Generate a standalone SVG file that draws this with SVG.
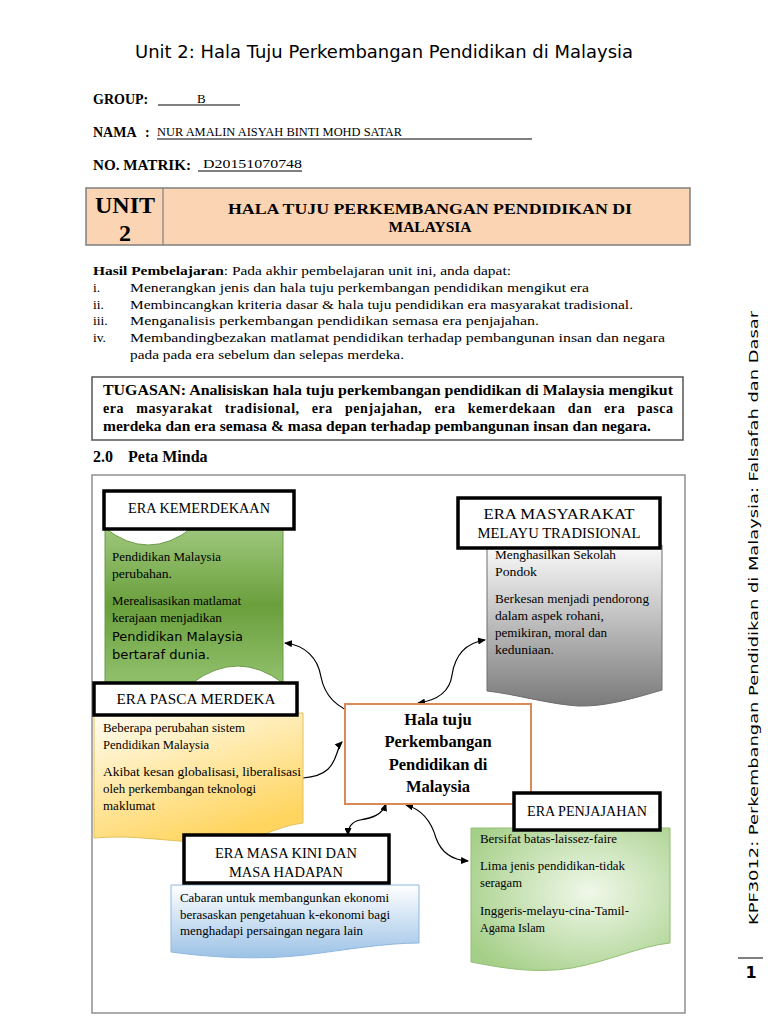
<svg xmlns="http://www.w3.org/2000/svg" width="768" height="1024" viewBox="0 0 768 1024">
<style>
.serif{font-family:"Liberation Serif","Times New Roman",serif;fill:#000}
.b{font-weight:bold}
.body{font-size:13.5px}
.nt{font-size:12px}
.lbl{font-size:14px;text-anchor:middle}
.lblbox{fill:#fff;stroke:#000;stroke-width:3.5}
.conn{fill:none;stroke:#000;stroke-width:1.2}
</style>
<defs>
<marker id="ah" viewBox="0 0 8 7" refX="7" refY="3.5" markerWidth="8" markerHeight="7" markerUnits="userSpaceOnUse" orient="auto-start-reverse"><path d="M0,0 L8,3.5 L0,7 z" fill="#000"/></marker>
<linearGradient id="gGreen" x1="0" y1="0" x2="0" y2="1"><stop offset="0" stop-color="#a9d08a"/><stop offset="0.5" stop-color="#6a9f3c"/><stop offset="1" stop-color="#9ac877"/></linearGradient>
<linearGradient id="gGray" x1="0" y1="0" x2="0" y2="1"><stop offset="0" stop-color="#fbfbfb"/><stop offset="1" stop-color="#7a7a7a"/></linearGradient>
<linearGradient id="gYellow" x1="0" y1="0" x2="0.5" y2="1"><stop offset="0" stop-color="#fffdf2"/><stop offset="1" stop-color="#ffd560"/></linearGradient>
<radialGradient id="gLGreen" cx="0.6" cy="0.45" r="0.7"><stop offset="0" stop-color="#f0f8e9"/><stop offset="1" stop-color="#a5cf88"/></radialGradient>
<linearGradient id="gBlue" x1="0" y1="0" x2="0" y2="1"><stop offset="0" stop-color="#ffffff"/><stop offset="1" stop-color="#9cc2e6"/></linearGradient>
</defs>
<rect width="768" height="1024" fill="#fff"/>

<g id="header">
<text x="384" y="58" font-family="DejaVu Sans,sans-serif" font-size="17" text-anchor="middle" textLength="498" lengthAdjust="spacingAndGlyphs">Unit 2: Hala Tuju Perkembangan Pendidikan di Malaysia</text>
<text class="serif b" x="93" y="104" font-size="14">GROUP:</text>
<text class="serif" x="197" y="103" font-size="13">B</text>
<line x1="158" y1="105" x2="240" y2="105" stroke="#000" stroke-width="1"/>
<text class="serif b" x="93" y="137" font-size="14">NAMA</text>
<text class="serif b" x="145" y="137" font-size="14">:</text>
<text class="serif" x="157" y="136" font-size="13" textLength="245" lengthAdjust="spacingAndGlyphs">NUR AMALIN AISYAH BINTI MOHD SATAR</text>
<line x1="157" y1="139" x2="532" y2="139" stroke="#000" stroke-width="1"/>
<text class="serif b" x="93" y="170" font-size="14" textLength="98" lengthAdjust="spacingAndGlyphs">NO. MATRIK:</text>
<text class="serif" x="203" y="168" font-size="13" textLength="99" lengthAdjust="spacingAndGlyphs">D20151070748</text>
<line x1="198" y1="171" x2="302" y2="171" stroke="#000" stroke-width="1"/>
</g>

<g id="unit-box">
<rect x="86" y="188" width="604" height="57" fill="#fbd4b4" stroke="#7f7f7f" stroke-width="1.5"/>
<line x1="163" y1="188" x2="163" y2="245" stroke="#7f7f7f" stroke-width="1.2"/>
<text class="serif b" x="125" y="213" font-size="24" text-anchor="middle">UNIT</text>
<text class="serif b" x="125" y="241" font-size="24" text-anchor="middle">2</text>
<text class="serif b" x="430" y="214" font-size="15.5" text-anchor="middle" textLength="404" lengthAdjust="spacingAndGlyphs">HALA TUJU PERKEMBANGAN PENDIDIKAN DI</text>
<text class="serif b" x="430" y="232" font-size="15.5" text-anchor="middle">MALAYSIA</text>
</g>

<g id="hasil">
<text class="serif body" x="93" y="275" textLength="418" lengthAdjust="spacingAndGlyphs"><tspan font-weight="bold">Hasil Pembelajaran</tspan>: Pada akhir pembelajaran unit ini, anda dapat:</text>
<text class="serif body" x="93" y="292">i.</text>
<text class="serif body" x="130" y="292" textLength="459" lengthAdjust="spacingAndGlyphs">Menerangkan jenis dan hala tuju perkembangan pendidikan mengikut era</text>
<text class="serif body" x="93" y="309">ii.</text>
<text class="serif body" x="130" y="309" textLength="503" lengthAdjust="spacingAndGlyphs">Membincangkan kriteria dasar &amp; hala tuju pendidikan era masyarakat tradisional.</text>
<text class="serif body" x="93" y="325">iii.</text>
<text class="serif body" x="130" y="325" textLength="409" lengthAdjust="spacingAndGlyphs">Menganalisis perkembangan pendidikan semasa era penjajahan.</text>
<text class="serif body" x="93" y="342">iv.</text>
<text class="serif body" x="130" y="342" textLength="535" lengthAdjust="spacingAndGlyphs">Membandingbezakan matlamat pendidikan terhadap pembangunan insan dan negara</text>
<text class="serif body" x="130" y="359" textLength="274" lengthAdjust="spacingAndGlyphs">pada pada era sebelum dan selepas merdeka.</text>
</g>

<g id="tugasan">
<rect x="92" y="377" width="591" height="63" fill="#fff" stroke="#555" stroke-width="1.5"/>
<text class="serif b" x="103" y="395" font-size="14" textLength="570" lengthAdjust="spacingAndGlyphs">TUGASAN: Analisiskan hala tuju perkembangan pendidikan  di Malaysia mengikut</text>
<text class="serif b" x="103" y="413" font-size="14" word-spacing="8" textLength="570" lengthAdjust="spacing">era masyarakat tradisional, era penjajahan, era kemerdekaan dan era pasca</text>
<text class="serif b" x="103" y="431" font-size="14" textLength="548" lengthAdjust="spacingAndGlyphs">merdeka dan era semasa &amp; masa depan terhadap pembangunan insan dan negara.</text>
</g>

<g id="section-title">
<text class="serif b" x="93" y="462" font-size="16">2.0</text>
<text class="serif b" x="128" y="462" font-size="16">Peta Minda</text>
</g>

<rect id="map-frame" x="92" y="475" width="593" height="538" fill="none" stroke="#7f7f7f" stroke-width="1.3"/>

<g id="connectors">
<path class="conn" d="M357,714 C333,707 324,692 321,677 C318,658 305,645 285,643" marker-start="url(#ah)" marker-end="url(#ah)"/>
<path class="conn" d="M418,703 C440,700 450,690 452,675 C455,655 465,643 485,640" marker-start="url(#ah)" marker-end="url(#ah)"/>
<path class="conn" d="M303,778 C328,776 333,765 337,753 C339,747 340,744 342,742" marker-end="url(#ah)"/>
<path class="conn" d="M386,804 C382,815 372,818 360,820 C351,822 348,828 348,835" marker-start="url(#ah)" marker-end="url(#ah)"/>
<path class="conn" d="M406,805 C424,810 432,824 436,838 C441,852 452,860 468,861" marker-start="url(#ah)" marker-end="url(#ah)"/>
</g>

<g id="node-kemerdekaan">
<path d="M105,528 Q148,562 192,528 Q238,494 283,528 L283,683 Q238,649 192,683 Q148,717 105,683 Z" fill="url(#gGreen)" stroke="#6b9a45" stroke-width="1"/>
<text class="serif nt" x="112" y="561" textLength="109" lengthAdjust="spacingAndGlyphs">Pendidikan Malaysia</text>
<text class="serif nt" x="112" y="578" textLength="60" lengthAdjust="spacingAndGlyphs">perubahan.</text>
<text class="serif nt" x="112" y="605" textLength="129" lengthAdjust="spacingAndGlyphs">Merealisasikan matlamat</text>
<text class="serif nt" x="112" y="622" textLength="110" lengthAdjust="spacingAndGlyphs">kerajaan menjadikan</text>
<text x="112" y="641" font-family="DejaVu Sans,sans-serif" font-size="12.5" textLength="131" lengthAdjust="spacingAndGlyphs">Pendidikan Malaysia</text>
<text x="112" y="659" font-family="DejaVu Sans,sans-serif" font-size="12.5" textLength="98" lengthAdjust="spacingAndGlyphs">bertaraf dunia.</text>
<rect class="lblbox" x="104" y="491" width="190" height="38"/>
<text class="serif lbl" x="199" y="513" textLength="142" lengthAdjust="spacingAndGlyphs">ERA KEMERDEKAAN</text>
</g>

<g id="node-tradisional">
<path d="M487,545 L662,545 L662,690 C635,698 605,707 578,706 C548,704 515,694 487,691 Z" fill="url(#gGray)" stroke="#6e6e6e" stroke-width="1"/>
<text class="serif nt" x="495" y="559" textLength="121" lengthAdjust="spacingAndGlyphs">Menghasilkan Sekolah</text>
<text class="serif nt" x="495" y="576" textLength="42" lengthAdjust="spacingAndGlyphs">Pondok</text>
<text class="serif nt" x="495" y="603" textLength="154" lengthAdjust="spacingAndGlyphs">Berkesan menjadi pendorong</text>
<text class="serif nt" x="495" y="620" textLength="109" lengthAdjust="spacingAndGlyphs">dalam aspek rohani,</text>
<text class="serif nt" x="495" y="637" textLength="112" lengthAdjust="spacingAndGlyphs">pemikiran, moral dan</text>
<text class="serif nt" x="495" y="654" textLength="59" lengthAdjust="spacingAndGlyphs">keduniaan.</text>
<rect class="lblbox" x="458" y="498" width="202" height="50"/>
<text class="serif lbl" x="559" y="519" textLength="151" lengthAdjust="spacingAndGlyphs">ERA MASYARAKAT</text>
<text class="serif lbl" x="559" y="538" textLength="163" lengthAdjust="spacingAndGlyphs">MELAYU TRADISIONAL</text>
</g>

<g id="node-pasca">
<path d="M94,713 L303,713 L303,823 C275,826 255,843 220,843 C175,843 135,834 94,838 Z" fill="url(#gYellow)" stroke="#e3c15e" stroke-width="1"/>
<text class="serif nt" x="103" y="732" textLength="142" lengthAdjust="spacingAndGlyphs">Beberapa perubahan sistem</text>
<text class="serif nt" x="103" y="749" textLength="106" lengthAdjust="spacingAndGlyphs">Pendidikan Malaysia</text>
<text class="serif nt" x="103" y="776" textLength="198" lengthAdjust="spacingAndGlyphs">Akibat kesan globalisasi, liberalisasi</text>
<text class="serif nt" x="103" y="793" textLength="153" lengthAdjust="spacingAndGlyphs">oleh perkembangan teknologi</text>
<text class="serif nt" x="103" y="810" textLength="52" lengthAdjust="spacingAndGlyphs">maklumat</text>
<rect class="lblbox" x="94" y="683" width="203" height="32"/>
<text class="serif lbl" x="196" y="704" textLength="159" lengthAdjust="spacingAndGlyphs">ERA PASCA MERDEKA</text>
</g>

<g id="node-center">
<rect x="345" y="704" width="186" height="100" fill="#fff" stroke="#d98a58" stroke-width="2"/>
<text class="serif b" x="438" y="725" font-size="16.5" text-anchor="middle">Hala tuju</text>
<text class="serif b" x="438" y="747" font-size="16.5" text-anchor="middle">Perkembangan</text>
<text class="serif b" x="438" y="770" font-size="16.5" text-anchor="middle">Pendidikan di</text>
<text class="serif b" x="438" y="792" font-size="16.5" text-anchor="middle">Malaysia</text>
</g>

<g id="node-penjajahan">
<path d="M471,828 L670,828 L670,943 C640,946 610,961 572,968 C535,974 502,968 471,962 Z" fill="url(#gLGreen)" stroke="#93bf74" stroke-width="1"/>
<text class="serif nt" x="480" y="843" textLength="137" lengthAdjust="spacingAndGlyphs">Bersifat batas-laissez-faire</text>
<text class="serif nt" x="480" y="870" textLength="145" lengthAdjust="spacingAndGlyphs">Lima jenis pendidikan-tidak</text>
<text class="serif nt" x="480" y="887" textLength="42" lengthAdjust="spacingAndGlyphs">seragam</text>
<text class="serif nt" x="480" y="915" textLength="149" lengthAdjust="spacingAndGlyphs">Inggeris-melayu-cina-Tamil-</text>
<text class="serif nt" x="480" y="932" textLength="65" lengthAdjust="spacingAndGlyphs">Agama Islam</text>
<rect class="lblbox" x="514" y="793" width="146" height="37"/>
<text class="serif lbl" x="587" y="816" textLength="120" lengthAdjust="spacingAndGlyphs">ERA PENJAJAHAN</text>
</g>

<g id="node-masakini">
<path d="M171,885 L419,885 L419,943 C385,943 345,950 305,955 C260,960 215,958 171,952 Z" fill="url(#gBlue)" stroke="#8fb8e0" stroke-width="1"/>
<text class="serif nt" x="180" y="902" textLength="209" lengthAdjust="spacingAndGlyphs">Cabaran untuk membangunkan ekonomi</text>
<text class="serif nt" x="180" y="919" textLength="210" lengthAdjust="spacingAndGlyphs">berasaskan pengetahuan k-ekonomi bagi</text>
<text class="serif nt" x="180" y="935" textLength="183" lengthAdjust="spacingAndGlyphs">menghadapi persaingan negara lain</text>
<rect class="lblbox" x="184" y="835" width="205" height="48"/>
<text class="serif lbl" x="286" y="858" textLength="142" lengthAdjust="spacingAndGlyphs">ERA MASA KINI DAN</text>
<text class="serif lbl" x="286" y="877" textLength="114" lengthAdjust="spacingAndGlyphs">MASA HADAPAN</text>
</g>

<g id="footer">
<text transform="translate(758,618) rotate(-90)" font-family="DejaVu Sans,sans-serif" font-size="13" text-anchor="middle" textLength="614" lengthAdjust="spacingAndGlyphs" fill="#000">KPF3012: Perkembangan Pendidikan di Malaysia: Falsafah dan Dasar</text>
<line x1="738" y1="958" x2="763" y2="958" stroke="#000" stroke-width="1"/>
<text x="751" y="978" font-family="DejaVu Sans,sans-serif" font-size="16" font-weight="bold" text-anchor="middle">1</text>
</g>
</svg>
